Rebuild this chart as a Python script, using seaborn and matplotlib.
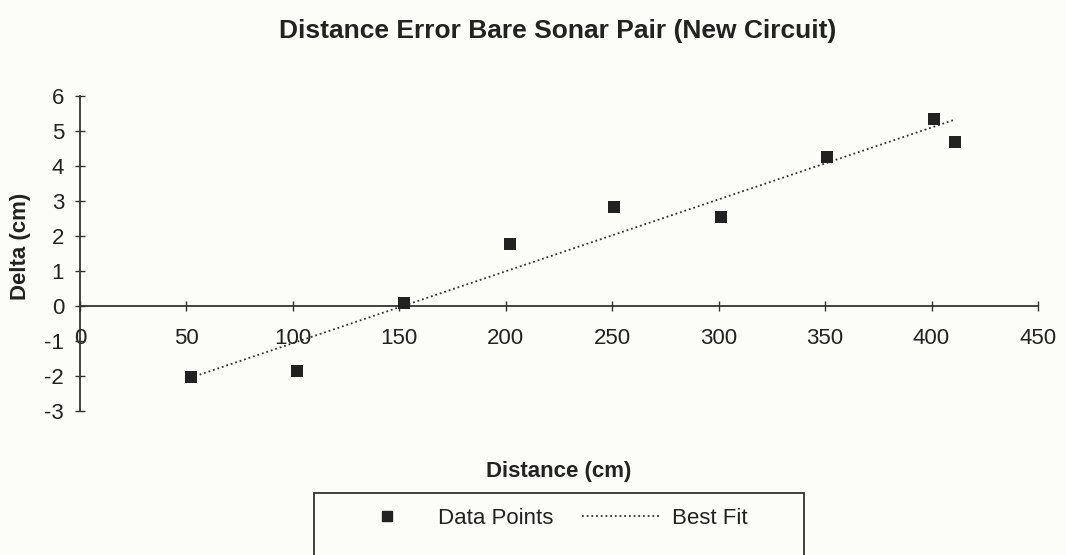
import numpy as np
import pandas as pd
import matplotlib
matplotlib.use("Agg")
import matplotlib.pyplot as plt
import seaborn as sns
from matplotlib.lines import Line2D
from matplotlib.patches import Rectangle

# Data
distance = [52, 102, 152, 202, 251, 301, 351, 401, 411]
delta = [-2.04, -1.85, 0.08, 1.77, 2.82, 2.55, 4.27, 5.34, 4.68]
x_ticks = [0, 50, 100, 150, 200, 250, 300, 350, 400, 450]
y_ticks = [-3, -2, -1, 0, 1, 2, 3, 4, 5, 6]

df = pd.DataFrame({'Distance': distance, 'Delta': delta})

sns.set_style('white')
plt.rcParams['font.family'] = ['Liberation Sans', 'DejaVu Sans']
plt.rcParams['axes.unicode_minus'] = False

bg = '#fcfcf8'
ink = '#222222'

fig = plt.figure(figsize=(10.66, 5.55), dpi=100, facecolor=bg)
ax = fig.add_axes([80 / 1066, 1 - 411 / 555, (1038 - 80) / 1066, (411 - 96) / 555])
ax.set_facecolor(bg)

# Best fit line (linear regression through the points)
sns.regplot(data=df, x='Distance', y='Delta', scatter=False, ci=None, ax=ax,
            line_kws=dict(color='#333333', linestyle=(0, (1, 1.6)), linewidth=1.3))
# Data points
sns.scatterplot(data=df, x='Distance', y='Delta', marker='s', s=70, color=ink,
                edgecolor=ink, linewidth=0, ax=ax, zorder=3)

ax.set_xlim(0, 450)
ax.set_ylim(-3, 6)
ax.set_xticks(x_ticks)
ax.set_yticks(y_ticks)
ax.set_xlabel('')
ax.set_ylabel('')

for s in ['top', 'right']:
    ax.spines[s].set_visible(False)
ax.spines['bottom'].set_position(('data', 0))
ax.spines['left'].set_position(('data', 0))
for s in ['bottom', 'left']:
    ax.spines[s].set_color('#333333')
    ax.spines[s].set_linewidth(1.3)

ax.tick_params(axis='both', bottom=True, left=True, direction='inout', length=7,
               width=1, color='#333333', labelsize=16, labelcolor=ink)
ax.tick_params(axis='x', pad=12)
ax.tick_params(axis='y', pad=8)

fig.text(558 / 1066, 1 - 31 / 555, 'Distance Error Bare Sonar Pair (New Circuit)',
         ha='center', va='center', fontsize=19, fontweight='bold', color=ink)
fig.text(559 / 1066, 1 - 472 / 555, 'Distance (cm)', ha='center', va='center',
         fontsize=16, fontweight='bold', color=ink)
fig.text(21 / 1066, 1 - 246 / 555, 'Delta (cm)', ha='center', va='center',
         rotation=90, fontsize=16, fontweight='bold', color=ink)

# Legend, box runs off the bottom edge
handles = [Line2D([], [], marker='s', linestyle='none', color=ink, markersize=7),
           Line2D([], [], color='#333333', linestyle=(0, (1, 1.6)), linewidth=1.3)]
fig.legend(handles, ['Data Points', 'Best Fit'], loc='center left',
           bbox_to_anchor=(337 / 1066, 1 - 518 / 555), ncol=2, frameon=False,
           borderpad=0, fontsize=16, handlelength=3.5, handletextpad=0.55,
           columnspacing=1.3, labelcolor=ink)
fig.patches.append(Rectangle((314 / 1066, -0.05), (804 - 314) / 1066, 0.05 + 1 - 493 / 555,
                             transform=fig.transFigure, fill=False, edgecolor='#333333',
                             linewidth=1.3, clip_on=False))

fig.savefig('out.png', dpi=100, facecolor=bg)
